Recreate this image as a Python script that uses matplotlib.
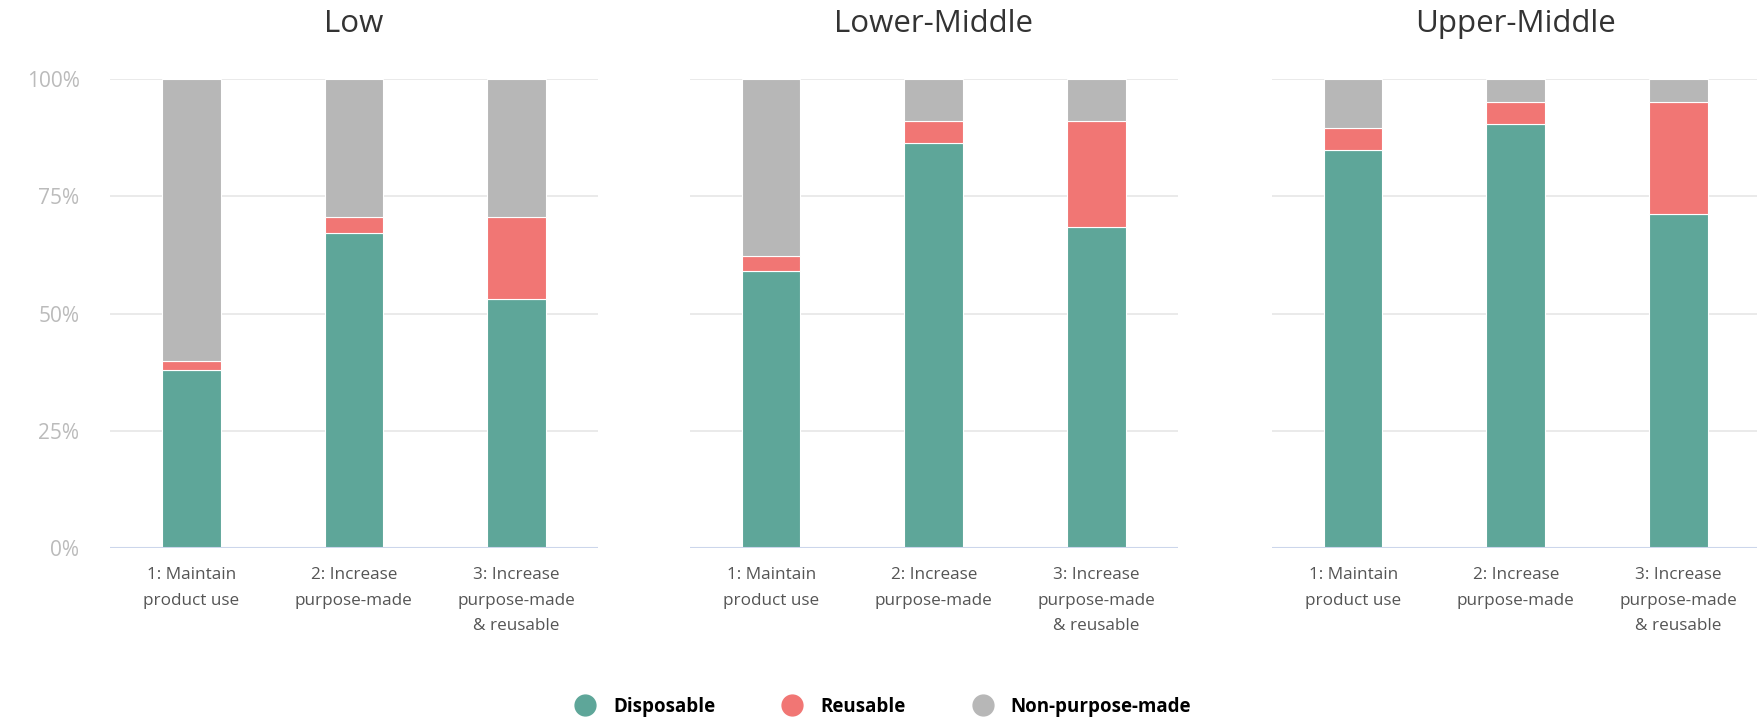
import numpy as np
import matplotlib.pyplot as plt
from matplotlib.lines import Line2D

# Data (percent of total)
panels = ['Low', 'Lower-Middle', 'Upper-Middle']
scenarios = ['1: Maintain\nproduct use', '2: Increase\npurpose-made', '3: Increase\npurpose-made\n& reusable']
series_names = ['Disposable', 'Reusable', 'Non-purpose-made']

disposable = [[38.0, 67.2, 53.1], [59.2, 86.4, 68.5], [85.0, 90.5, 71.2]]
reusable = [[2.0, 3.4, 17.5], [3.0, 4.6, 22.5], [4.7, 4.6, 23.9]]
non_purpose = [[60.0, 29.4, 29.4], [37.8, 9.0, 9.0], [10.3, 4.9, 4.9]]

colors = ['#5ea699', '#f17674', '#b7b7b7']

fig = plt.figure(figsize=(17.58, 7.21), dpi=100)

W, H = 1758, 721
ax_lefts = [110, 690, 1272]  # pixel left edge of each panel
ax_width = 487.5
ax_bottom = 548
ax_top = 79.3

x = np.arange(len(scenarios))
for i, name in enumerate(panels):
    ax = fig.add_axes([ax_lefts[i] / W, 1 - ax_bottom / H, ax_width / W, (ax_bottom - ax_top) / H])
    d = np.array(disposable[i])
    r = np.array(reusable[i])
    n = np.array(non_purpose[i])
    ax.bar(x, d, width=0.36, color=colors[0], edgecolor='white', linewidth=0.8, zorder=3)
    ax.bar(x, r, width=0.36, bottom=d, color=colors[1], edgecolor='white', linewidth=0.8, zorder=3)
    ax.bar(x, n, width=0.36, bottom=d + r, color=colors[2], edgecolor='white', linewidth=0.8, zorder=3)

    ax.set_xlim(-0.5, 2.5)
    ax.set_ylim(0, 100)
    ax.set_yticks([0, 25, 50, 75, 100])
    ax.grid(axis='y', color='#e6e6e6', linewidth=1.2, zorder=0)
    ax.axhline(0, color='#ccd6eb', linewidth=1.5, zorder=4)
    for s in ax.spines.values():
        s.set_visible(False)
    ax.tick_params(length=0)
    ax.set_xticks(x)
    ax.set_xticklabels(scenarios, fontsize=12.3, color='#555555', family='Open Sans', linespacing=1.78)
    ax.tick_params(axis='x', pad=14)
    if i == 0:
        ax.set_yticklabels(['0%', '25%', '50%', '75%', '100%'], fontsize=15, color='#bbbbbb', family='Open Sans')
        ax.tick_params(axis='y', pad=22)
    else:
        ax.set_yticklabels([])

    # panel title
    fig.text((ax_lefts[i] + ax_width / 2) / W, 1 - 24 / H, name, ha='center', va='center',
             fontsize=22.5, color='#333333', family='Open Sans')

# Legend with round markers at the bottom
handles = [Line2D([], [], marker='o', linestyle='', markersize=15, color=c) for c in colors]
fig.legend(handles, series_names, loc='center', bbox_to_anchor=(0.5, 1 - 707 / H), ncol=3,
           frameon=False, prop={'family': 'Open Sans', 'weight': 'bold', 'size': 13.5},
           handletextpad=0.5, columnspacing=3.1)

fig.savefig('out.png', dpi=100)
